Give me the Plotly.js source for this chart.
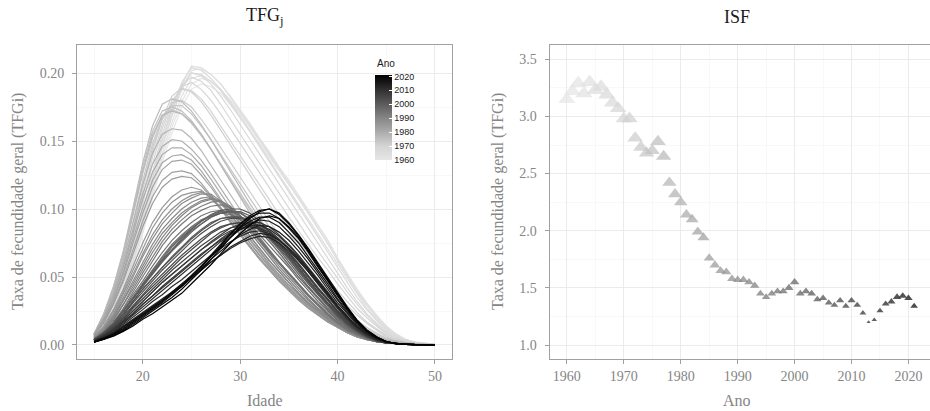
<!DOCTYPE html>
<html>
<head>
<meta charset="utf-8">
<script src="https://cdn.plot.ly/plotly-3.0.1.min.js"></script>
<style>html,body{margin:0;padding:0;overflow:hidden;background:#fff}</style>
</head>
<body>
<div id="chart"></div>
<script>
// ---------------- DATA ----------------
const anos = [1960,1961,1962,1963,1964,1965,1966,1967,1968,1969,
              1970,1971,1972,1973,1974,1975,1976,1977,1978,1979,
              1980,1981,1982,1983,1984,1985,1986,1987,1988,1989,
              1990,1991,1992,1993,1994,1995,1996,1997,1998,1999,
              2000,2001,2002,2003,2004,2005,2006,2007,2008,2009,
              2010,2011,2012,2013,2014,2015,2016,2017,2018,2019,
              2020,2021];

const idades = [15,16,17,18,19,20,21,22,23,24,25,26,27,28,29,30,31,32,
                33,34,35,36,37,38,39,40,41,42,43,44,45,46,47,48,49,50];

// Índice sintético de fecundidade (ISF) por ano
const isf = [3.15,3.22,3.29,3.20,3.30,3.23,3.26,3.19,3.12,3.07,
             2.98,2.98,2.81,2.73,2.68,2.70,2.78,2.65,2.42,2.32,
             2.25,2.14,2.10,1.99,1.94,1.76,1.70,1.65,1.64,1.58,
             1.57,1.57,1.55,1.52,1.45,1.42,1.45,1.47,1.47,1.50,
             1.55,1.45,1.47,1.45,1.40,1.41,1.37,1.35,1.39,1.34,
             1.39,1.35,1.28,1.20,1.22,1.30,1.36,1.38,1.42,1.43,
             1.41,1.34];

// Taxas de fecundidade por idade (por mil mulheres), uma linha por ano, idades 15..50
const tfgPorMil = [
 [4,10,20,35,56,82,108,134,156,175,188,192,190,185,177,168,158,148,138,128,118,108,97,86,75,63,51,40,30,21,14,8,4,2,1,0.5], //1960
 [4,10,21,36,58,85,111,138,160,179,192,196,194,188,180,171,161,151,141,130,120,110,99,88,77,64,52,41,31,22,14,8,4,2,1,0.5], //1961
 [4,11,22,38,61,89,117,145,168,188,202,203,199,192,183,173,163,152,142,131,121,110,99,88,77,64,52,41,31,22,14,8,4,2,1,0.5], //1962
 [4,11,22,37,60,87,114,141,164,183,196,198,194,188,179,170,160,150,139,129,118,108,97,86,75,63,51,40,30,21,13,8,4,2,1,0.5], //1963
 [5,12,23,39,62,90,119,147,171,191,205,204,199,192,182,172,162,151,140,129,119,108,97,86,75,62,50,39,29,20,13,7,4,2,1,0.5], //1964
 [5,12,23,39,62,90,118,146,169,188,200,199,194,187,177,167,157,147,136,125,115,104,93,82,71,59,48,37,27,19,12,7,3,2,1,0.5], //1965
 [5,13,25,41,65,94,123,151,174,193,204,202,196,188,178,168,157,146,135,124,113,102,91,80,69,57,46,35,26,18,11,6,3,2,1,0.5], //1966
 [5,13,25,42,66,95,124,151,173,190,200,198,192,183,173,162,151,140,129,118,107,96,85,74,64,53,42,32,23,16,10,6,3,1.5,1,0.5], //1967
 [6,14,27,45,70,99,128,155,176,191,197,194,187,177,166,155,144,133,122,111,100,89,79,69,59,49,39,30,22,15,9,5,3,1.5,1,0.5], //1968
 [6,15,29,48,74,104,133,159,178,190,193,188,180,170,159,148,137,126,115,104,94,84,74,64,55,45,36,27,20,14,8,5,2,1.5,1,0.5], //1969
 [7,17,32,52,79,109,138,162,180,188,187,181,172,161,150,139,128,117,106,96,86,76,67,58,49,40,32,24,17,12,7,4,2,1,0.5,0.3], //1970
 [7,18,34,55,83,114,142,166,183,189,186,179,169,158,146,135,124,113,102,92,82,72,63,54,46,37,29,22,16,11,6,4,2,1,0.5,0.3], //1971
 [7,19,36,58,86,117,145,166,178,180,175,166,156,145,134,123,112,101,91,81,72,63,54,46,38,31,24,18,13,9,5,3,1.5,1,0.5,0.3], //1972
 [7,20,38,61,90,121,148,167,176,176,170,161,151,140,129,118,107,97,87,77,68,59,51,43,36,29,22,17,12,8,5,3,1.5,1,0.5,0.3], //1973
 [8,22,41,65,95,126,152,169,173,170,163,154,144,133,122,111,101,91,81,72,63,55,47,40,33,26,20,15,11,7,4,2.5,1.5,1,0.5,0.3], //1974
 [8,23,43,68,99,131,157,172,175,172,165,155,144,132,121,110,99,89,79,70,61,53,45,38,31,25,19,14,10,7,4,2.5,1.5,1,0.5,0.3], //1975
 [8,23,43,69,101,134,161,177,181,179,172,162,151,139,127,115,104,93,83,73,63,54,46,38,31,25,19,14,10,6,4,2.5,1.5,1,0.5,0.3], //1976
 [8,22,41,66,97,128,154,169,172,170,164,155,144,132,120,108,97,87,77,67,58,50,42,35,28,22,17,12,9,6,3.5,2,1,0.5,0.3,0.2], //1977
 [8,21,39,62,90,118,141,155,159,158,152,143,132,121,110,99,89,79,70,61,52,44,37,30,24,19,14,10,7,5,3,2,1,0.5,0.3,0.2], //1978
 [8,20,37,59,85,111,133,146,151,150,144,136,126,115,104,93,83,74,65,56,48,40,33,27,22,17,12,9,6,4,2.5,1.5,1,0.5,0.3,0.2], //1979
 [8,20,36,57,82,107,127,140,145,145,140,132,122,111,101,90,80,71,62,54,46,38,32,26,20,15,11,8,5,3.5,2,1.5,1,0.5,0.3,0.2], //1980
 [7,19,34,54,78,101,121,134,139,140,136,128,118,107,97,86,77,68,59,51,43,36,30,24,19,14,10,7,5,3,2,1,0.5,0.3,0.2,0.1], //1981
 [7,18,33,52,75,97,116,129,135,136,133,125,116,106,95,85,75,66,57,49,42,35,29,23,18,14,10,7,5,3,2,1,0.5,0.3,0.2,0.1], //1982
 [7,17,31,49,70,91,109,121,127,128,126,119,110,101,91,81,72,63,55,47,40,33,27,22,17,13,9,6,4,2.5,1.5,1,0.5,0.3,0.2,0.1], //1983
 [7,16,30,47,67,87,104,116,122,124,123,117,109,100,90,81,72,63,55,47,40,33,27,22,17,13,9,6,4,2.5,1.5,1,0.5,0.3,0.2,0.1], //1984
 [6,14,26,41,58,75,90,101,109,114,116,114,108,100,91,82,73,64,56,48,41,34,28,22,17,13,9,6,4,2.5,1.5,1,0.5,0.3,0.2,0.1], //1985
 [6,13,25,39,55,71,86,97,105,110,112,113,108,101,93,84,75,66,58,50,42,35,29,23,18,13,9,6,4,2.5,1.5,1,0.5,0.3,0.2,0.1], //1986
 [5,12,23,37,52,67,81,92,100,106,110,112,110,104,96,87,78,69,60,52,44,37,30,24,19,14,10,6,4,2.5,1.5,1,0.5,0.3,0.2,0.1], //1987
 [5,12,22,35,50,65,78,89,97,104,108,111,111,106,98,89,80,71,62,54,46,38,31,25,19,14,10,7,4,2.5,1.5,1,0.5,0.3,0.2,0.1], //1988
 [5,11,21,33,47,61,74,85,93,100,105,108,109,105,98,89,80,71,62,54,46,38,31,25,19,14,10,7,4,2.5,1.5,1,0.5,0.3,0.2,0.1], //1989
 [5,11,20,32,45,58,71,82,90,97,102,106,108,106,100,92,83,74,65,56,48,40,33,26,20,15,11,7,4.5,2.5,1.5,1,0.5,0.3,0.2,0.1], //1990
 [4,10,19,30,43,56,68,79,88,95,101,105,107,106,101,93,85,76,67,58,50,42,34,27,21,16,11,7.5,4.5,2.5,1.5,1,0.5,0.3,0.2,0.1], //1991
 [4,10,18,29,41,53,65,76,85,92,98,102,105,106,102,95,87,78,69,60,52,44,36,29,22,16,11,7.5,4.5,2.5,1.5,1,0.5,0.3,0.2,0.1], //1992
 [4,9,17,27,39,50,62,73,82,89,95,99,102,103,101,95,88,79,70,61,53,45,37,30,23,17,12,8,5,2.5,1.5,1,0.5,0.3,0.2,0.1], //1993
 [4,9,16,26,37,47,58,68,77,84,90,95,98,99,97,92,85,77,68,60,52,44,36,29,22,16,11,7.5,4.5,2.5,1.5,1,0.5,0.3,0.2,0.1], //1994
 [4,9,16,25,35,45,55,65,74,81,87,92,95,97,96,92,85,77,69,61,53,45,37,30,23,17,12,8,5,2.5,1.5,1,0.5,0.3,0.2,0.1], //1995
 [4,9,16,25,35,45,55,64,73,80,86,91,95,98,98,95,89,81,73,65,57,48,40,32,25,18,13,8.5,5,2.5,1.5,1,0.5,0.3,0.2,0.1], //1996
 [4,9,16,25,35,44,54,63,72,79,85,91,95,98,99,97,92,84,76,68,59,50,42,34,26,19,13,9,5,3,1.5,1,0.5,0.3,0.2,0.1], //1997
 [4,9,16,25,34,43,53,62,70,77,84,89,94,97,98,97,93,86,78,70,61,52,43,35,27,20,14,9,5.5,3,1.5,1,0.5,0.3,0.2,0.1], //1998
 [4,9,16,25,34,43,52,61,69,76,83,89,94,97,98,98,95,89,81,73,64,55,46,37,29,21,15,10,6,3,1.5,1,0.5,0.3,0.2,0.1], //1999
 [4,9,16,25,34,44,53,62,70,78,85,91,96,99,100,100,97,91,83,75,66,57,47,38,30,22,15,10,6,3,1.5,1,0.5,0.3,0.2,0.1], //2000
 [4,9,15,23,32,41,49,57,65,72,79,85,90,93,94,94,91,86,79,71,63,54,45,37,29,21,15,10,6,3,1.5,1,0.5,0.3,0.2,0.1], //2001
 [4,9,15,23,32,41,49,57,64,71,78,84,89,93,94,94,92,87,80,73,65,56,47,38,30,22,15,10,6,3,1.5,1,0.5,0.3,0.2,0.1], //2002
 [4,8,14,22,31,39,47,55,62,69,76,82,87,91,93,93,91,87,81,74,66,57,48,39,31,23,16,10.5,6,3,1.5,1,0.5,0.3,0.2,0.1], //2003
 [3.5,8,14,21,29,37,45,52,59,66,72,78,83,87,89,90,89,85,79,72,65,57,48,39,31,23,16,10.5,6,3,1.5,1,0.5,0.3,0.2,0.1], //2004
 [3.5,8,13,20,28,36,43,50,57,64,70,76,82,86,89,90,89,86,81,74,67,59,50,41,33,24,17,11,6.5,3.5,1.5,1,0.5,0.3,0.2,0.1], //2005
 [3.5,7.5,13,19,27,34,41,48,55,61,67,73,78,83,86,88,88,85,80,74,67,59,50,41,33,25,17,11,6.5,3.5,1.5,1,0.5,0.3,0.2,0.1], //2006
 [3.5,7,12,18,25,32,39,46,52,58,64,70,75,80,84,86,87,85,81,75,68,60,51,42,34,25,18,11.5,7,3.5,1.5,1,0.5,0.3,0.2,0.1], //2007
 [3.5,7,12,18,25,32,39,46,52,58,64,70,76,81,86,89,90,88,84,78,71,63,54,45,36,27,19,12,7,3.5,2,1,0.5,0.3,0.2,0.1], //2008
 [3,6.5,11,17,23,30,36,43,49,55,61,67,72,77,82,85,87,86,83,77,70,62,54,45,36,27,19,12,7,3.5,2,1,0.5,0.3,0.2,0.1], //2009
 [3,6.5,11,17,23,30,36,42,48,54,60,66,72,78,83,87,90,90,87,81,74,66,57,48,39,29,21,13.5,8,4,2,1,0.5,0.3,0.2,0.1], //2010
 [3,6,10,16,22,28,34,40,46,52,58,64,70,76,81,85,88,88,85,80,73,65,56,47,38,29,21,13.5,8,4,2,1,0.5,0.3,0.2,0.1], //2011
 [2.5,5.5,9.5,15,20,26,32,37,43,48,54,60,66,71,76,80,83,84,82,77,71,63,55,46,37,28,20,13,8,4,2,1,0.5,0.3,0.2,0.1], //2012
 [2.5,5,9,14,19,24,29,34,39,44,50,55,61,66,71,75,78,80,79,75,69,62,54,45,37,28,20,13,8,4,2,1,0.5,0.3,0.2,0.1], //2013
 [2.5,5,8.5,13,18,23,28,33,38,43,49,55,61,66,72,76,80,82,81,77,71,64,56,47,38,29,21,14,8.5,4.5,2,1,0.5,0.3,0.2,0.1], //2014
 [2.5,5,8.5,13,18,23,28,33,38,44,50,56,63,69,75,81,85,88,87,83,77,69,60,51,41,31,23,15,9,5,2.5,1,0.5,0.3,0.2,0.1], //2015
 [2.5,5,8.5,13,18,23,28,33,39,45,51,58,65,72,79,85,89,92,91,87,80,72,63,53,43,33,24,16,9.5,5,2.5,1,0.5,0.3,0.2,0.1], //2016
 [2.5,5,8,12,17,22,27,32,38,44,51,58,65,72,79,86,91,94,94,90,83,75,65,55,45,34,25,16.5,10,5,2.5,1,0.5,0.3,0.2,0.1], //2017
 [2,4.5,8,12,17,22,27,32,38,44,51,58,66,74,82,89,94,97,97,93,86,78,68,57,47,36,26,17,10,5.5,2.5,1,0.5,0.3,0.2,0.1], //2018
 [2,4.5,7.5,11,16,21,26,31,37,43,50,57,65,73,81,89,95,99,100,96,89,80,70,59,48,37,27,18,10.5,5.5,2.5,1,0.5,0.3,0.2,0.1], //2019
 [2,4,7,10.5,15,20,25,30,35,41,48,55,63,71,79,87,93,98,100,97,90,81,71,60,49,38,28,18.5,11,6,2.5,1,0.5,0.3,0.2,0.1], //2020
 [2,4,6.5,10,14,19,23,28,33,38,45,52,59,67,75,82,88,93,95,93,87,79,69,58,47,37,27,18,11,6,2.5,1,0.5,0.3,0.2,0.1]  //2021
];

const ticksAnoColorbar = [1960,1970,1980,1990,2000,2010,2020];

// ---------------- STYLE ----------------
const W = 932, H = 411;
const px = v => v / W;
const py = v => (H - v) / H;
const serif = '"Liberation Serif", "DejaVu Serif", serif';
const sans = '"Liberation Sans", Arial, sans-serif';
const txtGray = '#858585';
const frame = '#a0a0a0';

// grey colour scale for year (light -> black)
const grayStops = [[1960,230],[1970,212],[1980,172],[1990,134],[2000,92],[2010,50],[2021,0]];
const cmin = 1960, cmax = 2021;
function grayFor(yr){
  for (let i = 0; i < grayStops.length - 1; i++){
    const [y0,g0] = grayStops[i], [y1,g1] = grayStops[i+1];
    if (yr <= y1){
      const g = Math.round(g0 + (g1 - g0) * (yr - y0) / (y1 - y0));
      return `rgb(${g},${g},${g})`;
    }
  }
  return 'rgb(0,0,0)';
}
const colorscale = grayStops.map(([yr,g]) => [(yr - cmin)/(cmax - cmin), `rgb(${g},${g},${g})`]);

// size scale for ISF (marker width in px)
const isfMin = Math.min(...isf), isfMax = Math.max(...isf);
function sizeFor(v){
  const t = (v - isfMin) / (isfMax - isfMin);
  const w = 4 + 12.5 * Math.sqrt(t);
  return w / 1.08;
}

// ---------------- TRACES ----------------
const traces = anos.map((ano, i) => ({
  type: 'scatter', mode: 'lines',
  x: idades, y: tfgPorMil[i].map(v => v / 1000),
  line: {color: grayFor(ano), width: 1.2},
  xaxis: 'x', yaxis: 'y', hoverinfo: 'skip', showlegend: false
}));

traces.push({
  type: 'scatter', mode: 'markers',
  x: anos, y: isf,
  xaxis: 'x2', yaxis: 'y2', hoverinfo: 'skip', showlegend: false,
  marker: {
    symbol: 'triangle-up',
    size: isf.map(sizeFor),
    color: anos, colorscale: colorscale, cmin: cmin, cmax: cmax,
    line: {width: 0},
    showscale: true,
    colorbar: {
      x: px(375), xanchor: 'left', xref: 'paper',
      y: py(75), yanchor: 'top', yref: 'paper',
      len: 85, lenmode: 'pixels',
      thickness: 17, thicknessmode: 'pixels',
      xpad: 0, ypad: 0, outlinewidth: 0, borderwidth: 0,
      tickmode: 'array', tickvals: ticksAnoColorbar, ticktext: ticksAnoColorbar.map(String),
      ticks: 'inside', ticklen: 3, tickwidth: 1, tickcolor: '#ffffff',
      tickfont: {family: sans, size: 9, color: '#1a1a1a'}
    }
  }
});

// ---------------- LAYOUT ----------------
const axisBase = {
  showline: true, mirror: true, linecolor: frame, linewidth: 1,
  ticks: 'outside', ticklen: 4, tickwidth: 1, tickcolor: frame,
  showgrid: true, gridcolor: '#ebebeb', gridwidth: 1,
  zeroline: false, fixedrange: true, tickmode: 'array',
  tickfont: {family: serif, size: 14, color: txtGray}
};
const minorBase = {showgrid: true, gridcolor: '#f3f3f3', gridwidth: 0.6, ticks: ''};

const layout = {
  width: W, height: H,
  margin: {l: 0, r: 0, t: 0, b: 0},
  paper_bgcolor: '#ffffff', plot_bgcolor: '#ffffff',
  showlegend: false,
  xaxis: Object.assign({}, axisBase, {
    domain: [px(77), px(452)], range: [13.25, 51.75], anchor: 'y',
    tickvals: [20,30,40,50], ticktext: ['20','30','40','50'],
    minor: Object.assign({tickvals: [15,25,35,45]}, minorBase)
  }),
  yaxis: Object.assign({}, axisBase, {
    domain: [py(359), py(45)], range: [-0.0103, 0.2206], anchor: 'x',
    tickvals: [0,0.05,0.10,0.15,0.20], ticktext: ['0.00','0.05','0.10','0.15','0.20'],
    ticklabelstandoff: 5,
    minor: Object.assign({tickvals: [0.025,0.075,0.125,0.175]}, minorBase)
  }),
  xaxis2: Object.assign({}, axisBase, {
    domain: [px(549.5), px(931.5)], range: [1956.95, 2024.05], anchor: 'y2',
    tickvals: [1960,1970,1980,1990,2000,2010,2020],
    ticktext: ['1960','1970','1980','1990','2000','2010','2020'],
    minor: Object.assign({tickvals: [1965,1975,1985,1995,2005,2015]}, minorBase)
  }),
  yaxis2: Object.assign({}, axisBase, {
    domain: [py(359), py(45)], range: [0.878, 3.625], anchor: 'x2',
    tickvals: [1.0,1.5,2.0,2.5,3.0,3.5], ticktext: ['1.0','1.5','2.0','2.5','3.0','3.5'],
    ticklabelstandoff: 5,
    minor: Object.assign({tickvals: [1.25,1.75,2.25,2.75,3.25]}, minorBase)
  }),
  annotations: [
    {text: 'TFG<sub>j</sub>', x: px(265), y: py(17), xref: 'paper', yref: 'paper',
     xanchor: 'center', yanchor: 'middle', showarrow: false,
     font: {family: serif, size: 18, color: '#1a1a1a'}},
    {text: 'ISF', x: px(737), y: py(17), xref: 'paper', yref: 'paper',
     xanchor: 'center', yanchor: 'middle', showarrow: false,
     font: {family: serif, size: 18, color: '#1a1a1a'}},
    {text: 'Idade', x: px(265), y: py(400), xref: 'paper', yref: 'paper',
     xanchor: 'center', yanchor: 'middle', showarrow: false,
     font: {family: serif, size: 16, color: txtGray}},
    {text: 'Ano', x: px(737), y: py(400), xref: 'paper', yref: 'paper',
     xanchor: 'center', yanchor: 'middle', showarrow: false,
     font: {family: serif, size: 16, color: txtGray}},
    {text: 'Taxa de fecundidade geral (TFGi)', x: px(18), y: py(202), xref: 'paper', yref: 'paper',
     xanchor: 'center', yanchor: 'middle', showarrow: false, textangle: -90,
     font: {family: serif, size: 16, color: txtGray}},
    {text: 'Taxa de fecundidade geral (TFGi)', x: px(498), y: py(202), xref: 'paper', yref: 'paper',
     xanchor: 'center', yanchor: 'middle', showarrow: false, textangle: -90,
     font: {family: serif, size: 16, color: txtGray}},
    {text: 'Ano', x: px(375), y: py(63), xref: 'paper', yref: 'paper',
     xanchor: 'left', yanchor: 'middle', showarrow: false,
     font: {family: sans, size: 10, color: '#1a1a1a'}}
  ]
};

Plotly.newPlot('chart', traces, layout, {displayModeBar: false, staticPlot: true, responsive: false});
</script>
</body>
</html>
